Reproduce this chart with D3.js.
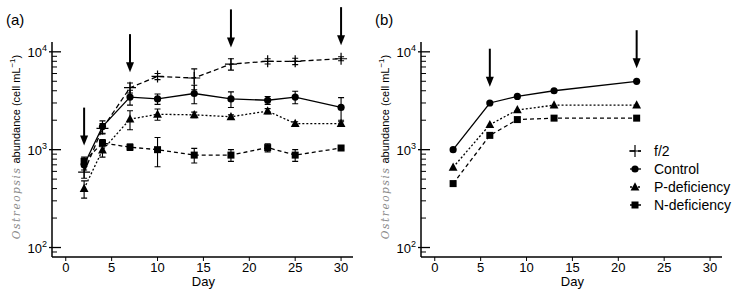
<!DOCTYPE html>
<html lang="en">
<head>
<meta charset="UTF-8">
<title>Ostreopsis abundance</title>
<script src="https://d3js.org/d3.v7.min.js"></script>
<style>
  body { margin: 0; background: #fff; }
  text { font-family: "Liberation Sans", Arial, sans-serif; fill: #000; }
  .tick-label { font-size: 13px; }
  .panel-title { font-size: 15px; }
  .axis-title { font-size: 13px; }
  .y-title { font-size: 11px; }
  .legend-label { font-size: 14px; }
</style>
</head>
<body>
<svg width="736" height="292"></svg>
<script>
// ---- data (panel a: days 2..30, panel b: days 2..22) ----
const daysA = [2, 4, 7, 10, 14, 18, 22, 25, 30];
const f2A       = [590, 1650, 4300, 5600, 5400, 7500, 8000, 8000, 8500];
const f2ErrA    = [80, 200, 500, 400, 1300, 1000, 500, 600, 400];
const controlA  = [700, 1720, 3450, 3300, 3750, 3300, 3200, 3450, 2700];
const controlErrA = [80, 250, 600, 400, 800, 600, 300, 500, 700];
const pDefA     = [400, 990, 2050, 2300, 2270, 2170, 2480, 1850, 1850];
const pDefErrA  = [80, 150, 450, 300, 150, 100, 150, 80, 80];
const nDefA     = [760, 1170, 1060, 1000, 880, 880, 1050, 880, 1040];
const nDefErrA  = [80, 100, 80, 330, 150, 120, 100, 120, 40];

const daysB = [2, 6, 9, 13, 22];
const controlB = [1000, 3000, 3500, 4000, 5000];
const pDefB    = [660, 1800, 2550, 2850, 2850];
const nDefB    = [450, 1400, 2030, 2100, 2100];

const arrowsA = [{day: 2, value: 1100}, {day: 7, value: 6200}, {day: 18, value: 11100}, {day: 30, value: 11700}];
const arrowsB = [{day: 6, value: 4400}, {day: 22, value: 6800}];

const xTicks = [0, 5, 10, 15, 20, 25, 30];
const yMajor = [100, 1000, 10000];
const legendNames = ["f/2", "Control", "P-deficiency", "N-deficiency"];

// ---- styles per series ----
const seriesStyle = {
  "f/2":          {dash: "5,3", marker: "plus"},
  "Control":      {dash: null,  marker: "circle"},
  "P-deficiency": {dash: "2,2", marker: "triangle"},
  "N-deficiency": {dash: "4,3", marker: "square"}
};

const svg = d3.select("svg");
const yScale = d3.scaleLog().domain([80, 12600]).range([257, 42]);

function drawMarker(g, type, x, y) {
  if (type === "circle") {
    g.append("circle").attr("cx", x).attr("cy", y).attr("r", 3.6).attr("fill", "#000");
  } else if (type === "square") {
    g.append("rect").attr("x", x - 3.5).attr("y", y - 3.5).attr("width", 7).attr("height", 7).attr("fill", "#000");
  } else if (type === "triangle") {
    g.append("path").attr("d", `M${x},${y - 4.8}L${x + 4.4},${y + 3.4}L${x - 4.4},${y + 3.4}Z`).attr("fill", "#000");
  } else if (type === "plus") {
    g.append("path").attr("d", `M${x - 6},${y}H${x + 6}M${x},${y - 6}V${y + 6}`)
      .attr("stroke", "#000").attr("stroke-width", 1.2).attr("fill", "none");
  }
}

function drawPanel(x0, label, series, arrows, showLegend) {
  const xScale = d3.scaleLinear().domain([-1.5, 31.3]).range([x0, x0 + 301]);
  const g = svg.append("g");

  // axes lines
  g.append("line").attr("x1", x0).attr("x2", x0).attr("y1", 42).attr("y2", 257)
    .attr("stroke", "#000").attr("stroke-width", 1.5);
  g.append("line").attr("x1", x0).attr("x2", x0 + 301).attr("y1", 257).attr("y2", 257)
    .attr("stroke", "#000").attr("stroke-width", 1.5);

  // y ticks
  const minor = [];
  [100, 1000].forEach(d => { for (let k = 2; k <= 9; k++) minor.push(d * k); });
  minor.push(90);
  minor.forEach(v => {
    g.append("line").attr("x1", x0).attr("x2", x0 + 5).attr("y1", yScale(v)).attr("y2", yScale(v))
      .attr("stroke", "#000").attr("stroke-width", 1);
  });
  yMajor.forEach(v => {
    const y = yScale(v);
    g.append("line").attr("x1", x0 - 3).attr("x2", x0 + 9).attr("y1", y).attr("y2", y)
      .attr("stroke", "#000").attr("stroke-width", 1.3);
    const t = g.append("text").attr("class", "tick-label").attr("x", x0 - 5).attr("y", y + 5)
      .attr("text-anchor", "end");
    t.append("tspan").text("10");
    t.append("tspan").attr("dy", -6).attr("font-size", 9).text(Math.round(Math.log10(v)));
  });

  // x ticks
  xTicks.forEach(d => {
    g.append("line").attr("x1", xScale(d)).attr("x2", xScale(d)).attr("y1", 257).attr("y2", 261)
      .attr("stroke", "#000").attr("stroke-width", 1);
    g.append("text").attr("class", "tick-label").attr("x", xScale(d)).attr("y", 272)
      .attr("text-anchor", "middle").text(d);
  });
  g.append("text").attr("class", "axis-title").attr("x", xScale(15)).attr("y", 286)
    .attr("text-anchor", "middle").text("Day");

  // y title
  const yt = g.append("text").attr("class", "y-title")
    .attr("transform", `translate(${x0 - 32},147) rotate(-90)`).attr("text-anchor", "middle");
  yt.append("tspan").attr("font-family", "DejaVu Serif, serif").attr("font-style", "italic")
    .attr("fill", "#8a8a8a").attr("letter-spacing", "1.6px").attr("font-size", 10.5).text("Ostreopsis");
  yt.append("tspan").text(" abundance (cell mL");
  yt.append("tspan").attr("dy", -5).attr("font-size", 8).text("\u22121");
  yt.append("tspan").attr("dy", 5).text(")");

  // panel label
  g.append("text").attr("class", "panel-title").attr("x", x0 - 46).attr("y", 25).text(label);

  // series
  series.forEach(s => {
    const st = seriesStyle[s.name];
    const pts = s.days.map((d, i) => ({day: d, v: s.values[i], e: s.err ? s.err[i] : 0}));
    const line = d3.line().x(d => xScale(d.day)).y(d => yScale(d.v));
    g.append("path").attr("d", line(pts)).attr("fill", "none").attr("stroke", "#000")
      .attr("stroke-width", 1.3).attr("stroke-dasharray", st.dash);
    pts.forEach(p => {
      if (p.e > 0) {
        const x = xScale(p.day);
        const y1 = yScale(p.v + p.e), y2 = yScale(Math.max(p.v - p.e, 81));
        g.append("path").attr("d", `M${x},${y1}V${y2}M${x - 3},${y1}H${x + 3}M${x - 3},${y2}H${x + 3}`)
          .attr("stroke", "#000").attr("stroke-width", 1.1).attr("fill", "none");
      }
    });
    pts.forEach(p => drawMarker(g, st.marker, xScale(p.day), yScale(p.v)));
  });

  // arrows
  arrows.forEach(a => {
    const x = xScale(a.day), yTip = yScale(a.value);
    g.append("line").attr("x1", x).attr("x2", x).attr("y1", yTip - 38).attr("y2", yTip - 8)
      .attr("stroke", "#000").attr("stroke-width", 2);
    g.append("path").attr("d", `M${x},${yTip}L${x + 4},${yTip - 10}L${x - 4},${yTip - 10}Z`).attr("fill", "#000");
  });

  // legend
  if (showLegend) {
    legendNames.forEach((name, i) => {
      const st = seriesStyle[name];
      const ly = 151 + i * 18;
      const lx = x0 + 214;
      g.append("line").attr("x1", lx - 5).attr("x2", lx + 6).attr("y1", ly).attr("y2", ly)
        .attr("stroke", "#000").attr("stroke-width", 1.3).attr("stroke-dasharray", st.dash);
      drawMarker(g, st.marker, lx, ly);
      g.append("text").attr("class", "legend-label").attr("x", lx + 19).attr("y", ly + 5).text(name);
    });
  }
}

drawPanel(52, "(a)", [
  {name: "f/2", days: daysA, values: f2A, err: f2ErrA},
  {name: "Control", days: daysA, values: controlA, err: controlErrA},
  {name: "P-deficiency", days: daysA, values: pDefA, err: pDefErrA},
  {name: "N-deficiency", days: daysA, values: nDefA, err: nDefErrA}
], arrowsA, false);

drawPanel(421, "(b)", [
  {name: "Control", days: daysB, values: controlB},
  {name: "P-deficiency", days: daysB, values: pDefB},
  {name: "N-deficiency", days: daysB, values: nDefB}
], arrowsB, true);
</script>
</body>
</html>
